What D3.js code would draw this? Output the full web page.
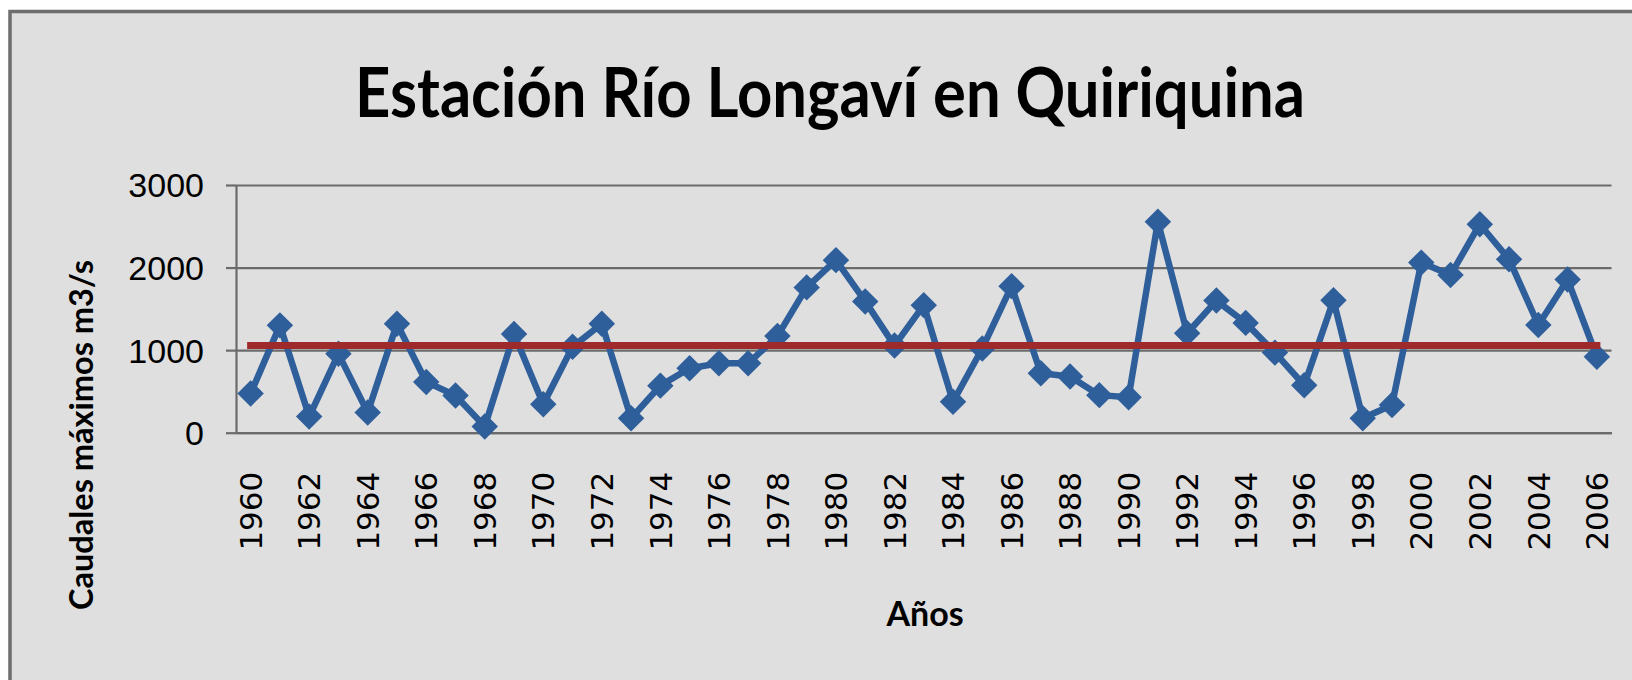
<!DOCTYPE html>
<html>
<head>
<meta charset="utf-8">
<script src="https://cdn.jsdelivr.net/npm/d3@7"></script>
<style>
  html, body { margin: 0; padding: 0; background: #ffffff; }
  svg { display: block; }
</style>
</head>
<body>
<svg id="chart" width="1632" height="680"></svg>
<script>
// ---- data ----
const years = [1960,1961,1962,1963,1964,1965,1966,1967,1968,1969,
               1970,1971,1972,1973,1974,1975,1976,1977,1978,1979,
               1980,1981,1982,1983,1984,1985,1986,1987,1988,1989,
               1990,1991,1992,1993,1994,1995,1996,1997,1998,1999,
               2000,2001,2002,2003,2004,2005,2006];
const caudales = [475,1300,195,955,245,1320,615,450,75,1195,
                  345,1040,1320,175,570,780,840,840,1170,1760,
                  2090,1590,1055,1545,375,1020,1775,720,680,455,
                  430,2555,1205,1600,1330,970,575,1605,175,335,
                  2060,1910,2525,2100,1305,1855,920];
const meanLine = [1055, 1055];          // horizontal reference series (start, end)
const yTicks = [0, 1000, 2000, 3000];
const xTickYears = years.filter((d, i) => i % 2 === 0);
const titleText = "Estación Río Longaví en Quiriquina";
const yTitleText = "Caudales máximos m3/s";
const xTitleText = "Años";

// ---- layout ----
const svg = d3.select("#chart");
const plot = { left: 236, right: 1611.5, top: 185, bottom: 432.7 };

// chart area background and border (left + top only visible)
svg.append("rect").attr("x", 0).attr("y", 0).attr("width", 1632).attr("height", 680).attr("fill", "#ffffff");
svg.append("rect").attr("x", 10).attr("y", 11.5).attr("width", 1700).attr("height", 720)
   .attr("fill", "#dfdfdf").attr("stroke", "#6e6e6e").attr("stroke-width", 3.5);

const x = d3.scaleBand().domain(years).range([plot.left, plot.right]).padding(0);
const xc = d => x(d) + x.bandwidth() / 2;
const y = d3.scaleLinear().domain([0, 3000]).range([plot.bottom, plot.top]);

// gridlines
const yAxis = d3.axisLeft(y).tickValues(yTicks).tickSize(-(plot.right - plot.left)).tickSizeOuter(0).tickFormat("");
const gGrid = svg.append("g").attr("transform", `translate(${plot.left},0)`).call(yAxis);
gGrid.select(".domain").remove();
gGrid.selectAll(".tick line").attr("stroke", "#6b6b6b").attr("stroke-width", 2.2);

// y axis line + outer ticks + labels
const yAxis2 = d3.axisLeft(y).tickValues(yTicks).tickSize(10).tickSizeOuter(0).tickPadding(22).tickFormat(d3.format("d"));
const gY = svg.append("g").attr("transform", `translate(${plot.left},0)`).call(yAxis2);
gY.select(".domain").attr("stroke", "#6b6b6b").attr("stroke-width", 2.2);
gY.selectAll(".tick line").attr("stroke", "#6b6b6b").attr("stroke-width", 2.2);
gY.selectAll(".tick text")
  .attr("font-family", "'Liberation Sans', Arial, sans-serif")
  .attr("font-size", 34).attr("fill", "#000").attr("dy", "0.35em");

// x axis labels (rotated, every other year)
const xAxis = d3.axisBottom(x).tickValues(xTickYears).tickSize(0).tickFormat(d3.format("d"));
const gX = svg.append("g").attr("transform", `translate(0,${plot.bottom})`).call(xAxis);
gX.select(".domain").attr("stroke", "#6b6b6b").attr("stroke-width", 2.2);
gX.selectAll(".tick text")
  .attr("font-family", "'DejaVu Sans', sans-serif")
  .attr("font-size", 31).attr("fill", "#000")
  .attr("transform", "rotate(-90)")
  .attr("text-anchor", "end")
  .attr("x", -39).attr("y", 0).attr("dy", "0.36em");

// blue series line
const line = d3.line().x((d, i) => xc(years[i])).y(d => y(d));
svg.append("path").datum(caudales)
   .attr("d", line).attr("fill", "none")
   .attr("stroke", "#2f5f9b").attr("stroke-width", 6.5).attr("stroke-linejoin", "round");

// diamond markers
const diamond = d3.symbol().type(d3.symbolSquare).size(350);
svg.append("g").selectAll("path").data(caudales).join("path")
   .attr("d", diamond)
   .attr("transform", (d, i) => `translate(${xc(years[i])},${y(d)}) rotate(45)`)
   .attr("fill", "#2f5f9b");

// red horizontal line (drawn over the series)
const redLine = d3.line().x((d, i) => xc(i === 0 ? years[0] : years[years.length - 1])).y(d => y(d));
svg.append("path").datum(meanLine)
   .attr("d", redLine).attr("fill", "none")
   .attr("stroke", "#9e2a2b").attr("stroke-width", 7).attr("stroke-linecap", "square");

// title
svg.append("text").text(titleText)
   .attr("x", 830).attr("y", 117)
   .attr("text-anchor", "middle")
   .attr("font-family", "Lato, 'Open Sans', sans-serif").attr("font-weight", "bold")
   .attr("font-size", 68).attr("fill", "#000")
   .attr("textLength", 950).attr("lengthAdjust", "spacingAndGlyphs");

// y axis title
svg.append("text").text(yTitleText)
   .attr("transform", "translate(93,435) rotate(-90)")
   .attr("text-anchor", "middle")
   .attr("font-family", "Lato, 'Open Sans', sans-serif").attr("font-weight", "bold")
   .attr("font-size", 33).attr("fill", "#000")
   .attr("textLength", 350).attr("lengthAdjust", "spacingAndGlyphs");

// x axis title
svg.append("text").text(xTitleText)
   .attr("x", 925).attr("y", 626)
   .attr("text-anchor", "middle")
   .attr("font-family", "Lato, 'Open Sans', sans-serif").attr("font-weight", "bold")
   .attr("font-size", 34).attr("fill", "#000");
</script>
</body>
</html>
